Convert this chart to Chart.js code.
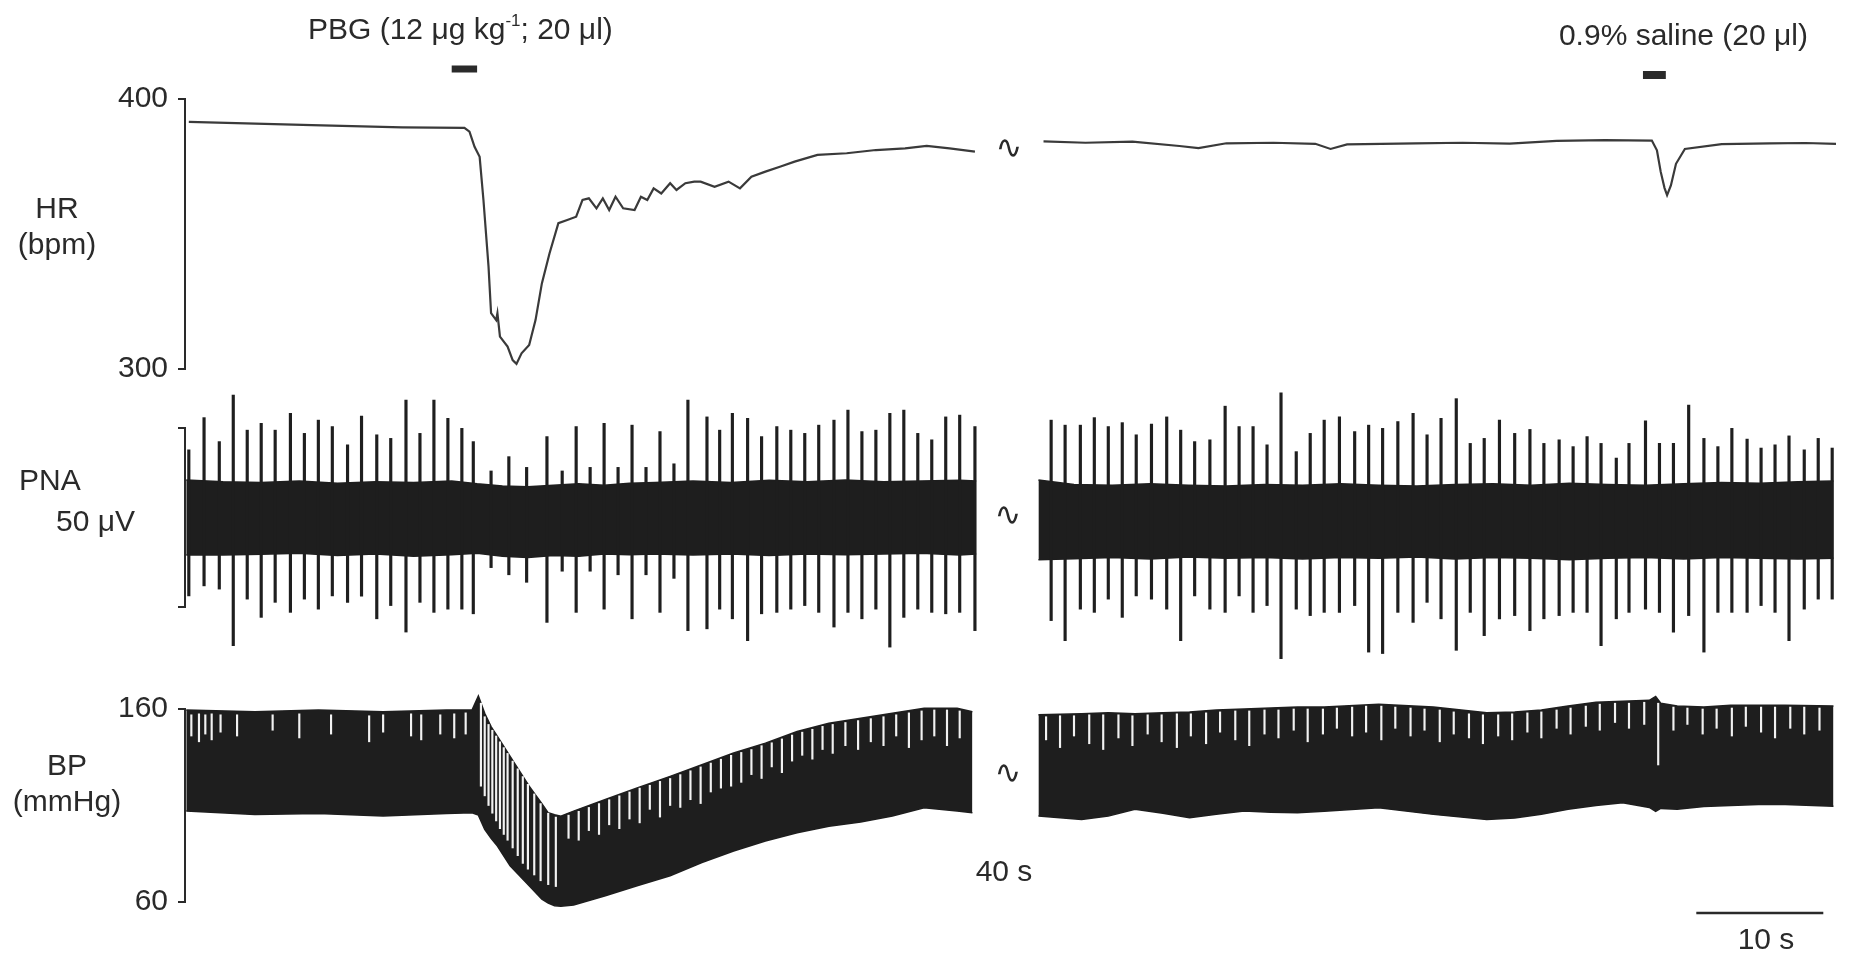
<!DOCTYPE html>
<html>
<head>
<meta charset="utf-8">
<title>HR / PNA / BP response to PBG</title>
<script src="https://cdn.jsdelivr.net/npm/chart.js@4.4.1/dist/chart.umd.min.js"></script>
<style>
  body { margin: 0; background: #fff; }
  #fig { position: relative; width: 1849px; height: 956px; overflow: hidden;
         font-family: 'Liberation Sans', Arial, sans-serif; color: #2a2a2a; }
  canvas { position: absolute; left: 0; }
  .lbl { position: absolute; font-size: 30px; line-height: 30px; white-space: nowrap; }
  .ctr { transform: translateX(-50%); text-align: center; }
  .brk { position: absolute; font-family: 'DejaVu Sans', sans-serif; font-size: 32px;
         line-height: 32px; transform: translate(-50%, -50%); }
  sup { font-size: 17px; line-height: 0; vertical-align: 13px; }
</style>
</head>
<body>
<div id="fig">
  <canvas id="hrChart" width="1849" height="400" style="top:0"></canvas>
  <canvas id="pnaChart" width="1849" height="300" style="top:380px"></canvas>
  <canvas id="bpChart" width="1849" height="316" style="top:640px"></canvas>

  <div class="lbl" style="left:308px; top:14px">PBG (12 &mu;g kg<sup>-1</sup>; 20 &mu;l)</div>
  <div class="lbl" style="right:41px; top:20px">0.9% saline (20 &mu;l)</div>

  <div class="lbl ctr" style="left:57px; top:193px">HR<br><span style="display:block; margin-top:6px">(bpm)</span></div>
  <div class="lbl" style="left:19px; top:465px">PNA</div>
  <div class="lbl" style="left:56px; top:506px">50 &mu;V</div>
  <div class="lbl ctr" style="left:67px; top:750px">BP<br><span style="display:block; margin-top:6px">(mmHg)</span></div>

  <div class="brk" style="left:1009px; top:147px">&#8767;</div>
  <div class="brk" style="left:1008px; top:514px">&#8767;</div>
  <div class="brk" style="left:1008px; top:772px">&#8767;</div>

  <div class="lbl ctr" style="left:1004px; top:856px">40 s</div>
  <div class="lbl ctr" style="left:1766px; top:924px">10 s</div>
</div>

<script>
/* ---------- data (time in s on the displayed axis, 40 s cut between panels) ---------- */

// heart rate, bpm
const hrLeftT = [0.3, 10.0, 17.1, 22.0, 22.4, 22.8, 23.2, 23.5, 23.9, 24.1, 24.5, 24.6, 24.8, 25.4, 25.8, 26.1, 26.5, 27.1, 27.6, 28.1,
                 28.7, 29.4, 30.1, 30.8, 31.3, 31.8, 32.4, 32.9, 33.4, 33.9, 34.5, 35.4, 35.9, 36.4, 36.9, 37.5, 38.2, 38.7, 39.4, 40.1,
                 40.6, 41.7, 42.8, 43.7, 44.6, 45.7, 46.9, 48.0, 49.8, 52.1, 54.4, 56.7, 58.4, 60.2, 62.2];
const hrLeftV = [391.5, 390.3, 389.5, 389.3, 387.9, 382.3, 378.6, 362.6, 337.9, 320.7, 318.1, 320.7, 312, 308.3, 303.3, 301.9, 305.8, 308.9, 318.1, 331.7,
                 342.8, 354, 355.2, 356.4, 362.6, 363.2, 359.5, 363.2, 358.9, 363.8, 359.5, 358.9, 363.8, 362.6, 366.9, 365, 368.8, 366.3, 368.8, 369.4,
                 369.4, 367.5, 369.4, 366.9, 371.2, 373.1, 375, 376.8, 379.3, 379.9, 381.1, 381.7, 382.6, 381.7, 380.5];
const hrRightT = [67.6, 70.9, 74.6, 78.3, 79.8, 82.0, 85.7, 89.0, 90.2, 91.5, 96.9, 100.6, 104.3, 108.0, 111.8, 115.5, 115.9, 116.2, 116.5, 116.7,
                  117.0, 117.4, 118.1, 121.0, 124.8, 127.6, 130.0];
const hrRightV = [384.3, 383.8, 384.2, 382.6, 381.8, 383.6, 383.8, 383.4, 381.5, 383.2, 383.6, 383.8, 383.5, 384.5, 384.8, 384.6, 381, 373, 367, 364.4,
                  368, 376, 381.5, 383.3, 383.6, 383.7, 383.4];
const hrTicks = [300, 400];

// injection bars: [start, end] in s
const injections = [[21.0, 23.0], [114.8, 116.6]];

// phrenic nerve activity, uV (background band + respiratory bursts)
const pnaBandLT  = [0.1, 3, 6, 9, 12, 15, 18, 21, 23, 25, 27, 29, 31, 33, 35, 37, 40, 43, 46, 49, 52, 55, 58, 61, 62.3];
const pnaBandLHi = [10.5, 10, 9.8, 10.2, 9.6, 10, 9.8, 10.2, 9.4, 8.8, 8.6, 9, 9.4, 9, 9.6, 9.8, 10.2, 9.8, 10.4, 10, 10.5, 10, 10.2, 10.4, 10.2];
const pnaBandLLo = [-10.5, -10.5, -10.3, -10, -10.6, -10.2, -10.8, -10.4, -10, -10.8, -11.2, -10.6, -10.8, -10.2, -10.4, -10.2, -10.5, -10.2, -10.6, -10.2, -10.4, -10.2, -10, -10.5, -10.2];
const pnaBandRT  = [67.2, 70, 73, 76, 79, 82, 85, 88, 91, 94, 97, 100, 103, 106, 109, 112, 115, 118, 121, 124, 127, 129.8];
const pnaBandRHi = [10.5, 9.2, 9, 9.4, 9, 8.8, 9.2, 9, 9.4, 9, 8.8, 9.2, 9.4, 9, 9.6, 9.2, 9, 9.4, 9.8, 9.6, 10, 10.2];
const pnaBandRLo = [-11.8, -11.5, -11.2, -11.6, -11, -11.4, -11.2, -11.6, -11.2, -11.4, -11, -11.6, -11.2, -11.4, -11.8, -11.4, -11.2, -11.6, -11.2, -11.4, -11.6, -11.4];

const pnaLeftT  = [0.3, 1.5, 2.7, 3.8, 4.9, 6.0, 7.1, 8.3, 9.4, 10.5, 11.6, 12.8, 13.9, 15.1, 16.2, 17.4, 18.5, 19.6, 20.7, 21.8, 22.7,
                   24.1, 25.5, 26.9, 28.5, 29.7, 30.8, 31.9, 33.0, 34.1, 35.2, 36.3, 37.4, 38.5, 39.6,
                   41.1, 42.1, 43.1, 44.3, 45.4, 46.6, 47.7, 48.8, 49.9, 51.1, 52.2, 53.3, 54.4, 55.5, 56.6, 57.7, 58.8, 59.9, 61.0, 62.2];
const pnaLeftHi = [18.9, 27.9, 21.2, 34.2, 24.4, 26.3, 24.4, 29.1, 23.5, 27.2, 25.4, 20.3, 28.3, 23.1, 22.1, 32.8, 23.5, 32.8, 27.7, 24.9, 21.2,
                   13, 17, 14, 22.6, 13, 25.4, 14, 26.3, 14, 25.8, 14, 24, 15, 32.8,
                   28.1, 24.4, 29.1, 27.7, 22.6, 25.4, 24.4, 23.5, 25.8, 27.2, 30, 24, 24.4, 29.1, 30, 23.5, 21.7, 28.1, 28.6, 25.4];
const pnaLeftLo = [-21.9, -19.1, -20, -35.8, -22.8, -27.9, -23.7, -26.5, -22.8, -25.6, -21.9, -23.7, -22, -28.3, -24.6, -32, -23.7, -26.5, -25.6, -25.6, -26.9,
                   -14, -16, -18.1, -29.3, -15, -26.5, -15, -25.6, -16, -28.3, -16, -26.5, -17, -31.6,
                   -31.1, -25.6, -28.3, -34.4, -26.9, -26.5, -25.6, -24.6, -26.5, -30.6, -26.5, -28.3, -25.6, -36.2, -27.9, -25.6, -26.5, -26.9, -26.5, -31.6];

const pnaRightT  = [68.2, 69.3, 70.5, 71.6, 72.7, 73.8, 74.9, 76.1, 77.3, 78.4, 79.5, 80.7, 81.9, 83.0, 84.1, 85.2, 86.3, 87.5, 88.6, 89.7,
                    90.9, 92.1, 93.2, 94.3, 95.5, 96.7, 97.8, 98.9, 100.1, 101.2, 102.3, 103.5, 104.7, 105.9, 107.0, 108.2, 109.3, 110.4, 111.5, 112.7,
                    113.7, 115.0, 116.1, 117.2, 118.4, 119.6, 120.7, 121.8, 123.0, 124.1, 125.2, 126.3, 127.5, 128.6, 129.7];
const pnaRightHi = [27.2, 25.8, 25.8, 27.9, 25.4, 26.5, 23.1, 26.1, 28.1, 24.4, 21.2, 21.7, 31.1, 25.4, 25.4, 20.3, 34.8, 18.4, 23.5, 27.2,
                    28.1, 24, 25.8, 24.9, 26.8, 29.1, 23.1, 27.7, 33.2, 20.7, 22.1, 27.2, 23.5, 24.6, 20.7, 21.7, 19.8, 22.6, 20.7, 16.6,
                    20.7, 27, 20.7, 20.7, 31.4, 22.1, 19.8, 24.9, 21.9, 19.4, 20.3, 22.8, 18.9, 22.1, 19.4];
const pnaRightLo = [-28.8, -34.4, -25.6, -26.5, -22.8, -27.9, -21.9, -22.8, -25.6, -34.4, -21.9, -25.6, -26.5, -21.9, -26.5, -24.6, -39.4, -25.6, -27.4, -26.5,
                    -26.5, -24.6, -37.6, -38, -26.5, -29.3, -23.7, -28.3, -37.1, -26.5, -33, -28.3, -27.4, -31.6, -28.3, -27.4, -26.5, -26.5, -35.8, -28.3,
                    -26.5, -25.6, -26.5, -32, -27.4, -37.6, -26.5, -26.5, -26.5, -24.6, -26.5, -34.4, -25.6, -22.8, -22.8];
const pnaTicks = [-25, 25];   // 50 uV calibration bracket

// blood pressure envelope, mmHg (systolic top / diastolic bottom)
const bpLeftT   = [0.1, 5.5, 10.5, 15.6, 20.6, 22.6, 23.1, 23.6, 24.1, 24.6, 25.6, 27.1, 28.1, 28.6, 29.1, 29.6, 30.6, 33.1, 35.6, 38.2,
                   40.7, 43.2, 45.7, 48.2, 50.7, 53.2, 55.7, 58.2, 60.8, 62.0];
const bpLeftSys = [159.5, 158.6, 159.5, 158.6, 159.5, 159.5, 166.7, 157.8, 150.9, 145.8, 135.4, 120, 111, 106.2, 105.2, 104.5, 107.1, 113.1, 119.1, 125.1,
                   131.1, 137.2, 142.3, 148.3, 152.6, 155.2, 157.8, 160.4, 160.4, 158.6];
const bpLeftDia = [107.1, 105.4, 105.9, 104.5, 105.9, 106.2, 105, 97.6, 93, 89, 78.7, 68.4, 61.5, 59.5, 58.1, 57.8, 58.4, 63.2, 68.4, 73.6,
                   80.5, 86.4, 91.6, 95.9, 99.3, 101.4, 104.6, 108.8, 107.1, 106.3];
const bpRightT   = [67.2, 70.6, 72.7, 74.8, 77.0, 79.1, 81.2, 83.4, 85.5, 87.6, 89.7, 94.0, 98.3, 102.5, 104.7, 106.8, 108.9, 111.1, 113.2, 115.3,
                    115.8, 116.2, 117.5, 119.6, 121.7, 123.9, 126.0, 129.8];
const bpRightSys = [157, 157.5, 158, 157.5, 158, 158.5, 159.5, 160, 160.5, 161, 161, 162.5, 161, 158, 158.5, 159.5, 161.5, 163.5, 164, 164.5,
                    166.5, 163, 161.5, 161, 162, 162, 162, 161.5];
const bpRightDia = [104.5, 102.8, 104.5, 108, 106, 103.7, 105.5, 107.1, 106.5, 106.3, 107, 108.8, 105.4, 102.8, 103.5, 105.5, 108, 110, 111.4, 109,
                    107, 108.5, 108, 109.5, 110, 110.5, 110.5, 109.6];

// light pulse gaps seen inside the BP band, mmHg [low, high]
const bpLeftGapT  = [0.5, 1.1, 1.6, 2.1, 2.8, 4.1, 6.9, 9.0, 11.5, 14.5, 15.6, 17.8, 18.6, 20.1, 21.2, 22.1,
                     23.3, 23.6, 23.9, 24.2, 24.5, 24.8, 25.1, 25.4, 25.8, 26.2, 26.6, 27.0, 27.5, 28.0, 28.6, 29.2,
                     30.2, 31.0, 31.8, 32.6, 33.4, 34.2, 35.0, 35.8, 36.6, 37.4, 38.2, 39.0, 39.8, 40.6, 41.4, 42.2, 43.0, 43.8, 44.6,
                     45.4, 46.2, 47.0, 47.8, 48.6, 49.4, 50.2, 51.0, 52.0, 53.0, 54.0, 55.0, 56.0, 57.0, 58.0, 59.0, 60.0, 61.0];
const bpLeftGapHi = [157, 157.5, 157, 157.5, 157, 157, 157, 157.5, 157, 156.5, 157, 157.5, 157, 157, 157.5, 158,
                     163, 156, 152, 149, 146, 143, 140, 137, 133, 129, 125, 121, 116, 111, 106, 104,
                     105, 107, 109, 111, 113, 115, 117, 119, 120.5, 122.5, 124, 126, 128, 130, 132, 134, 136, 137.5, 139,
                     141, 142.5, 144.5, 146.5, 148, 149.5, 151, 152, 153, 154, 155, 156, 157, 158, 159, 159.5, 159.5, 159];
const bpLeftGapLo = [146, 143, 147, 144, 148, 146, 149, 145, 147, 143, 148, 146, 144, 147, 145, 147,
                     120, 115, 110, 106, 102, 98, 95, 92, 88, 84, 80, 77, 74, 71, 69, 68,
                     93, 92, 97, 95, 100, 98, 103, 101, 108, 104, 110, 109, 113, 111, 117, 119, 120, 122, 126,
                     124, 130, 127, 133, 136, 134, 139, 137, 141, 139, 143, 141, 146, 140, 144, 146, 141, 145];
const bpRightGapT  = [67.8, 68.9, 70.0, 71.2, 72.3, 73.5, 74.6, 75.8, 76.9, 78.1, 79.2, 80.4, 81.5, 82.7, 83.8, 85.0, 86.1, 87.3, 88.4, 89.6,
                      90.7, 91.9, 93.0, 94.2, 95.3, 96.5, 97.6, 98.8, 99.9, 101.1, 102.2, 103.4, 104.5, 105.7, 106.8, 108.0, 109.1, 110.3, 111.4, 112.6,
                      113.7, 114.9, 116.0, 117.2, 118.3, 119.5, 120.6, 121.8, 122.9, 124.1, 125.2, 126.4, 127.5, 128.7];
const bpRightGapHi = [156, 156.5, 156.5, 157, 157, 157, 156.5, 157, 157, 157.5, 157.5, 158, 158.5, 159, 159, 159.5, 159.5, 160, 160, 160,
                      160.5, 161, 161.5, 161.5, 161, 160.5, 160, 159.5, 158.5, 157.5, 157, 157, 157.5, 158, 158.5, 159.5, 160.5, 161.5, 162.5, 163,
                      163, 163.5, 163, 161, 160.5, 160, 160, 160.5, 161, 161, 161, 161, 161, 160.5];
const bpRightGapLo = [144, 140, 146, 142, 139, 145, 141, 147, 143, 140, 146, 142, 148, 144, 141, 147, 145, 149, 143, 147,
                      150, 146, 148, 144, 150, 146, 149, 143, 147, 145, 142, 146, 144, 148, 145, 150, 147, 151, 149, 153,
                      150, 152, 131, 149, 152, 147, 150, 146, 151, 148, 145, 150, 147, 149];
const bpTicks = [60, 160];

const scaleBarSec = [119, 129];   // 10 s calibration

/* ---------- rendering ---------- */

const INK = "#2a2a2a";
const TRACE = "#1e1e1e";
const PAPER = "#f2f2f2";

Chart.defaults.font.family = "'Liberation Sans', Arial, sans-serif";
Chart.defaults.font.size = 30;
Chart.defaults.color = INK;

const pts = (ts, vs) => ts.map((t, i) => ({ x: t, y: vs[i] }));
const spans = (ts, lo, hi) => ts.map((t, i) => ({ x: t, y: [lo[i], hi[i]] }));

function lineSet(data, opts) {
    return Object.assign({
        type: "line", data, borderColor: TRACE, borderWidth: 1.5,
        pointRadius: 0, tension: 0, fill: false, clip: false, order: 2
    }, opts);
}

function spikeSet(data, color, thickness) {
    return {
        type: "bar", data, backgroundColor: color, borderWidth: 0,
        barThickness: thickness, grouped: false, clip: false, order: 0
    };
}

// horizontal marks (injection bars, time scale bar) drawn on the x scale
const hMarks = {
    id: "hMarks",
    afterDatasetsDraw(chart, args, opts) {
        const { ctx, scales: { x } } = chart;
        ctx.save();
        ctx.fillStyle = INK;
        (opts.items || []).forEach(m => {
            const x0 = x.getPixelForValue(m.from);
            const x1 = x.getPixelForValue(m.to);
            ctx.fillRect(x0, m.y - m.h / 2, x1 - x0, m.h);
        });
        ctx.restore();
    }
};

// vertical axis line only between the outer ticks (calibration style)
const spine = {
    id: "spine",
    afterDraw(chart) {
        const { ctx, chartArea, scales: { y } } = chart;
        const vals = y.ticks.map(t => t.value);
        const top = y.getPixelForValue(Math.max(...vals));
        const bot = y.getPixelForValue(Math.min(...vals));
        ctx.save();
        ctx.strokeStyle = INK;
        ctx.lineWidth = 2;
        ctx.beginPath();
        ctx.moveTo(chartArea.left, top - 1);
        ctx.lineTo(chartArea.left, bot + 1);
        ctx.stroke();
        ctx.restore();
    }
};

function yAxis(min, max, tickValues, showLabels) {
    return {
        type: "linear", min, max,
        afterBuildTicks: s => { s.ticks = tickValues.map(v => ({ value: v })); },
        afterFit: s => { s.width = 185; },
        grid: { drawOnChartArea: false, drawTicks: true, tickLength: 7, color: INK, lineWidth: 2 },
        border: { display: false },
        ticks: { display: showLabels, padding: 10, color: INK, font: { size: 30 } }
    };
}

function makeChart(id, y, padding, datasets, marks) {
    return new Chart(document.getElementById(id).getContext("2d"), {
        type: "line",
        data: { datasets },
        plugins: [hMarks, spine],
        options: {
            responsive: false,
            animation: false,
            events: [],
            layout: { padding: Object.assign({ left: 0, right: 13 }, padding) },
            plugins: {
                legend: { display: false },
                tooltip: { enabled: false },
                hMarks: { items: marks }
            },
            scales: {
                x: { type: "linear", min: 0, max: 130, display: false, offset: false },
                y
            }
        }
    });
}

// HR
makeChart("hrChart", yAxis(300, 400, hrTicks, true), { top: 99, bottom: 31 }, [
    lineSet(pts(hrLeftT, hrLeftV), { borderColor: "#3a3a3a", borderWidth: 2.2 }),
    lineSet(pts(hrRightT, hrRightV), { borderColor: "#3a3a3a", borderWidth: 2.2 })
], [
    { from: injections[0][0], to: injections[0][1], y: 69, h: 7 },
    { from: injections[1][0], to: injections[1][1], y: 75, h: 8 }
]);

// PNA
makeChart("pnaChart", yAxis(-25, 25, pnaTicks, false), { top: 48, bottom: 73 }, [
    lineSet(pts(pnaBandLT, pnaBandLHi), { fill: "+1", backgroundColor: TRACE }),
    lineSet(pts(pnaBandLT, pnaBandLLo)),
    lineSet(pts(pnaBandRT, pnaBandRHi), { fill: "+1", backgroundColor: TRACE }),
    lineSet(pts(pnaBandRT, pnaBandRLo)),
    spikeSet(spans(pnaLeftT, pnaLeftLo, pnaLeftHi), TRACE, 2.5),
    spikeSet(spans(pnaRightT, pnaRightLo, pnaRightHi), TRACE, 2.5)
], []);

// BP (axis range padded so the band is not clipped; spine spans 60-160 only)
makeChart("bpChart", yAxis(56, 168, bpTicks, true), { top: 53.56, bottom: 46.28 }, [
    lineSet(pts(bpLeftT, bpLeftSys), { fill: "+1", backgroundColor: TRACE }),
    lineSet(pts(bpLeftT, bpLeftDia)),
    lineSet(pts(bpRightT, bpRightSys), { fill: "+1", backgroundColor: TRACE }),
    lineSet(pts(bpRightT, bpRightDia)),
    spikeSet(spans(bpLeftGapT, bpLeftGapLo, bpLeftGapHi), PAPER, 1.5),
    spikeSet(spans(bpRightGapT, bpRightGapLo, bpRightGapHi), PAPER, 1.5)
], [
    { from: scaleBarSec[0], to: scaleBarSec[1], y: 273, h: 2.5 }
]);
</script>
</body>
</html>
